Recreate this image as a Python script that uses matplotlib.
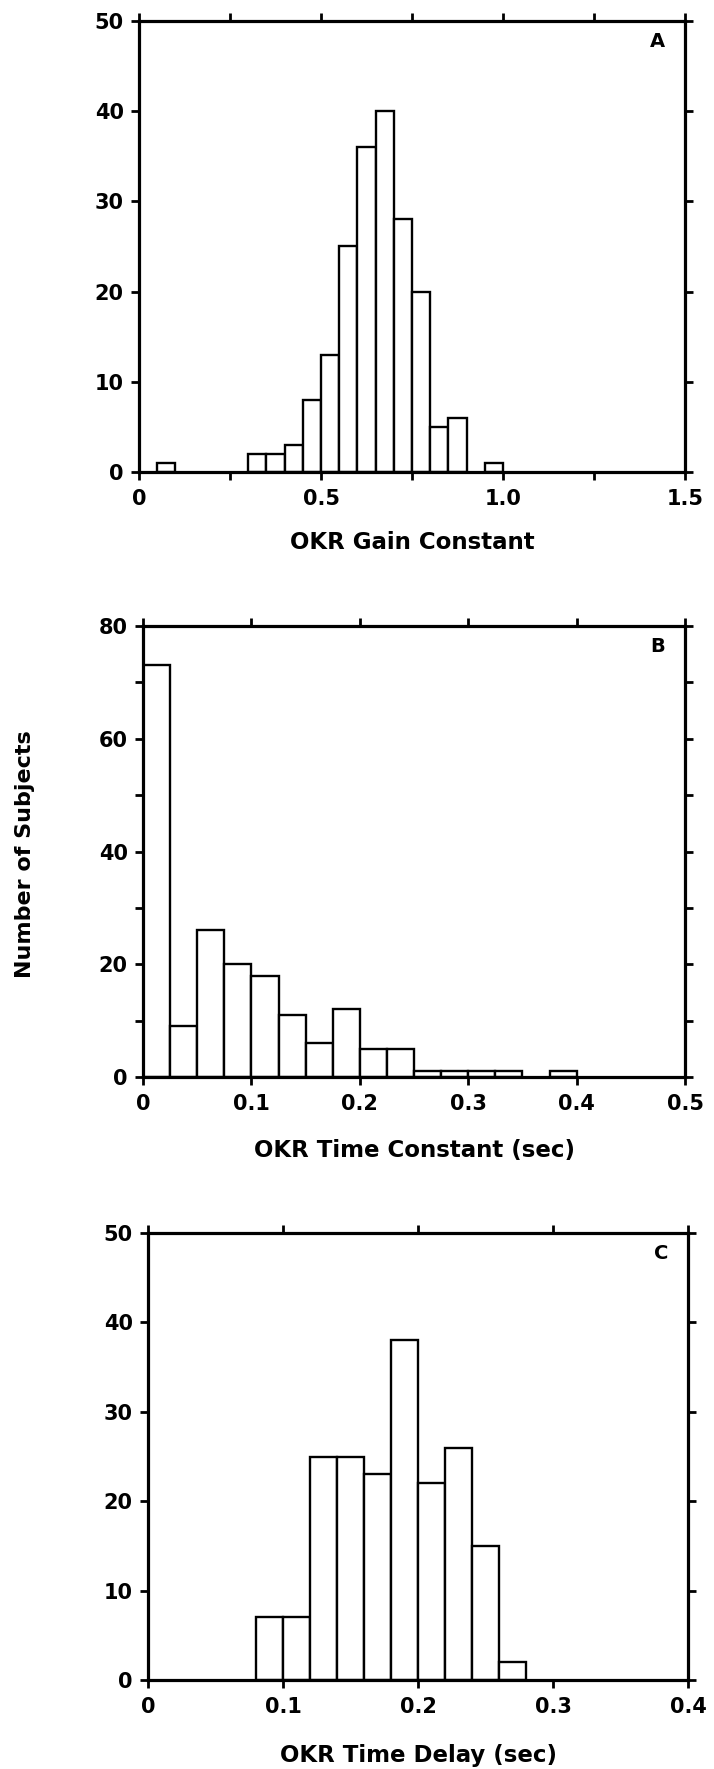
import matplotlib.pyplot as plt
from matplotlib.ticker import FixedLocator

# Panel A: OKR gain constant, bins of 0.05
gain_bin_starts = [0.05, 0.30, 0.35, 0.40, 0.45, 0.50, 0.55, 0.60, 0.65, 0.70, 0.75, 0.80, 0.85, 0.95]
gain_counts = [1, 2, 2, 3, 8, 13, 25, 36, 40, 28, 20, 5, 6, 1]

# Panel B: OKR time constant (sec), bins of 0.025
tc_bin_starts = [0.0, 0.025, 0.05, 0.075, 0.10, 0.125, 0.15, 0.175, 0.20, 0.225,
                 0.25, 0.275, 0.30, 0.325, 0.375]
tc_counts = [73, 9, 26, 20, 18, 11, 6, 12, 5, 5, 1, 1, 1, 1, 1]

# Panel C: OKR time delay (sec), bins of 0.02
td_bin_starts = [0.08, 0.10, 0.12, 0.14, 0.16, 0.18, 0.20, 0.22, 0.24, 0.26]
td_counts = [7, 7, 25, 25, 23, 38, 22, 26, 15, 2]

W, H = 714, 1769
FONT = "DejaVu Sans"

plt.rcParams["font.family"] = FONT
plt.rcParams["font.weight"] = "bold"

fig = plt.figure(figsize=(W / 100, H / 100), dpi=100)


def frac_box(left, right, top, bottom):
    return [left / W, 1 - bottom / H, (right - left) / W, (bottom - top) / H]


panels = [
    dict(box=frac_box(139, 685, 21, 472), starts=gain_bin_starts, counts=gain_counts,
         width=0.05, xlim=(0, 1.5), ylim=(0, 50),
         xticks=[0, 0.25, 0.5, 0.75, 1.0, 1.25, 1.5],
         xlabels=["0", "", "0.5", "", "1.0", "", "1.5"],
         yticks=[0, 10, 20, 30, 40, 50], ylabels=["0", "10", "20", "30", "40", "50"],
         xlabel="OKR Gain Constant", letter="A", labelpad=16),
    dict(box=frac_box(143, 685, 626, 1077), starts=tc_bin_starts, counts=tc_counts,
         width=0.025, xlim=(0, 0.5), ylim=(0, 80),
         xticks=[0, 0.1, 0.2, 0.3, 0.4, 0.5],
         xlabels=["0", "0.1", "0.2", "0.3", "0.4", "0.5"],
         yticks=list(range(0, 81, 10)),
         ylabels=["0", "", "20", "", "40", "", "60", "", "80"],
         xlabel="OKR Time Constant (sec)", letter="B", labelpad=18),
    dict(box=frac_box(148, 688, 1233, 1680), starts=td_bin_starts, counts=td_counts,
         width=0.02, xlim=(0, 0.4), ylim=(0, 50),
         xticks=[0, 0.1, 0.2, 0.3, 0.4],
         xlabels=["0", "0.1", "0.2", "0.3", "0.4"],
         yticks=[0, 10, 20, 30, 40, 50], ylabels=["0", "10", "20", "30", "40", "50"],
         xlabel="OKR Time Delay (sec)", letter="C", labelpad=20),
]

for p in panels:
    ax = fig.add_axes(p["box"])
    ax.bar(p["starts"], p["counts"], width=p["width"], align="edge",
           facecolor="white", edgecolor="black", linewidth=1.7, zorder=2)
    ax.set_xlim(*p["xlim"])
    ax.set_ylim(*p["ylim"])

    ax.xaxis.set_major_locator(FixedLocator(p["xticks"]))
    ax.set_xticklabels(p["xlabels"])
    ax.yaxis.set_major_locator(FixedLocator(p["yticks"]))
    ax.set_yticklabels(p["ylabels"])

    ax.tick_params(axis="both", which="major", direction="out", length=6, width=2,
                   labelsize=15, top=True, right=True, labeltop=False, labelright=False)
    ax.tick_params(axis="x", pad=6)
    ax.tick_params(axis="y", pad=5)
    for lab in ax.get_xticklabels() + ax.get_yticklabels():
        lab.set_fontweight("bold")

    for side in ax.spines.values():
        side.set_linewidth(2.3)
        side.set_zorder(3)

    ax.set_xlabel(p["xlabel"], fontsize=16.5, fontweight="bold", labelpad=p["labelpad"])
    ax.text(0.95, 0.955, p["letter"], transform=ax.transAxes, ha="center", va="center",
            fontsize=14, fontweight="bold")

fig.text(25 / W, 1 - 854 / H, "Number of Subjects", rotation=90, ha="center",
         va="center", fontsize=16, fontweight="bold")

fig.savefig("out.png", dpi=100)
